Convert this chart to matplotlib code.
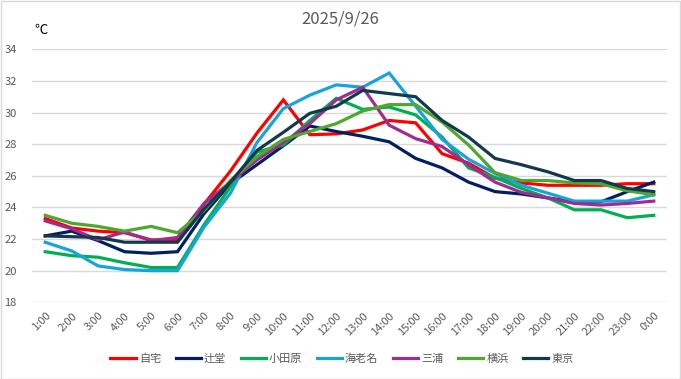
import matplotlib
matplotlib.use("Agg")
import matplotlib.pyplot as plt
from matplotlib.patches import Rectangle

plt.rcParams['font.family'] = ['Noto Sans CJK JP', 'DejaVu Sans']

hours = ["1:00", "2:00", "3:00", "4:00", "5:00", "6:00", "7:00", "8:00", "9:00", "10:00",
         "11:00", "12:00", "13:00", "14:00", "15:00", "16:00", "17:00", "18:00", "19:00",
         "20:00", "21:00", "22:00", "23:00", "0:00"]

jitaku = [23.3, 22.7, 22.5, 22.4, 21.95, 21.9, 24.2, 26.3, 28.7, 30.8, 28.6, 28.65, 28.9, 29.5,
          29.35, 27.4, 26.8, 25.85, 25.55, 25.4, 25.4, 25.4, 25.5, 25.5]
tsujido = [22.2, 22.5, 21.9, 21.2, 21.1, 21.2, 23.6, 25.5, 26.7, 27.9, 29.15, 28.8, 28.5, 28.15,
           27.1, 26.5, 25.6, 25.0, 24.85, 24.6, 24.35, 24.35, 25.0, 25.6]
odawara = [21.2, 20.95, 20.85, 20.5, 20.2, 20.2, 22.9, 25.3, 27.5, 27.95, 29.5, 30.9, 30.2, 30.35,
           29.85, 28.45, 26.5, 25.9, 25.2, 24.6, 23.85, 23.85, 23.35, 23.5]
ebina = [21.8, 21.25, 20.3, 20.07, 20.0, 20.0, 22.75, 24.9, 28.1, 30.25, 31.1, 31.75, 31.6, 32.5,
         30.4, 28.3, 27.05, 26.15, 25.4, 24.9, 24.4, 24.4, 24.4, 24.8]
miura = [23.15, 22.65, 21.95, 22.45, 21.9, 22.1, 24.25, 25.6, 27.0, 28.1, 29.3, 30.8, 31.6, 29.2,
         28.35, 27.85, 26.7, 25.6, 24.95, 24.6, 24.25, 24.15, 24.25, 24.4]
yokohama = [23.5, 23.0, 22.8, 22.5, 22.8, 22.4, 23.8, 25.7, 27.2, 28.3, 28.8, 29.3, 30.1, 30.5,
            30.5, 29.4, 27.95, 26.2, 25.7, 25.7, 25.55, 25.5, 25.05, 24.8]
tokyo = [22.2, 22.15, 22.1, 21.8, 21.8, 21.8, 23.9, 25.6, 27.6, 28.75, 29.95, 30.4, 31.4, 31.2,
         31.0, 29.5, 28.45, 27.1, 26.7, 26.25, 25.7, 25.7, 25.2, 25.0]

series_names = ["自宅", "辻堂", "小田原", "海老名", "三浦", "横浜", "東京"]
series_values = [jitaku, tsujido, odawara, ebina, miura, yokohama, tokyo]
series_colors = ["#FF0000", "#002060", "#00B050", "#16A4DC", "#A02B93", "#4EA72E", "#123A4C"]

title = "2025/9/26"
unit_label = "℃"
yticks = [18, 20, 22, 24, 26, 28, 30, 32, 34]

W, H = 681, 379
fig = plt.figure(figsize=(W / 100, H / 100), dpi=100)
fig.patch.set_facecolor("white")
fig.patches.append(Rectangle((0.5 / W, 0.5 / H), 1 - 1.5 / W, 1 - 1.5 / H, transform=fig.transFigure,
                             fill=False, edgecolor="#D9D9D9", linewidth=1))

ax = fig.add_axes([32 / W, 1 - 302.3 / H, (667 - 32) / W, (302.3 - 49.3) / H])
x = list(range(len(hours)))
for name, vals, col in zip(series_names, series_values, series_colors):
    ax.plot(x, vals, color=col, linewidth=2.3, label=name, solid_joinstyle="miter")

ax.set_xlim(-0.5, len(hours) - 0.5)
ax.set_ylim(18, 34)
ax.set_yticks(yticks)
ax.set_yticklabels([str(v) for v in yticks])
ax.set_xticks(x)
ax.set_xticklabels(hours, rotation=45, ha="right", rotation_mode="anchor")
ax.tick_params(axis="both", length=0, colors="#595959", labelsize=8)
ax.tick_params(axis="y", pad=11)
ax.tick_params(axis="x", pad=6)
for s in ax.spines.values():
    s.set_visible(False)
ax.yaxis.grid(True, color="#D9D9D9", linewidth=1)
ax.set_axisbelow(True)

fig.text(340 / W, 1 - 19 / H, title, ha="center", va="center", fontsize=12, color="#595959")
fig.text(34 / W, 1 - 30 / H, unit_label, ha="left", va="center", fontsize=9.5, color="black")

leg = fig.legend(loc="center", bbox_to_anchor=(342 / W, 1 - 359 / H), ncol=7, frameon=False,
                 fontsize=8, handlelength=2.3, handletextpad=0.25, columnspacing=1.3,
                 labelcolor="#595959")

fig.savefig("out.png", dpi=100)
